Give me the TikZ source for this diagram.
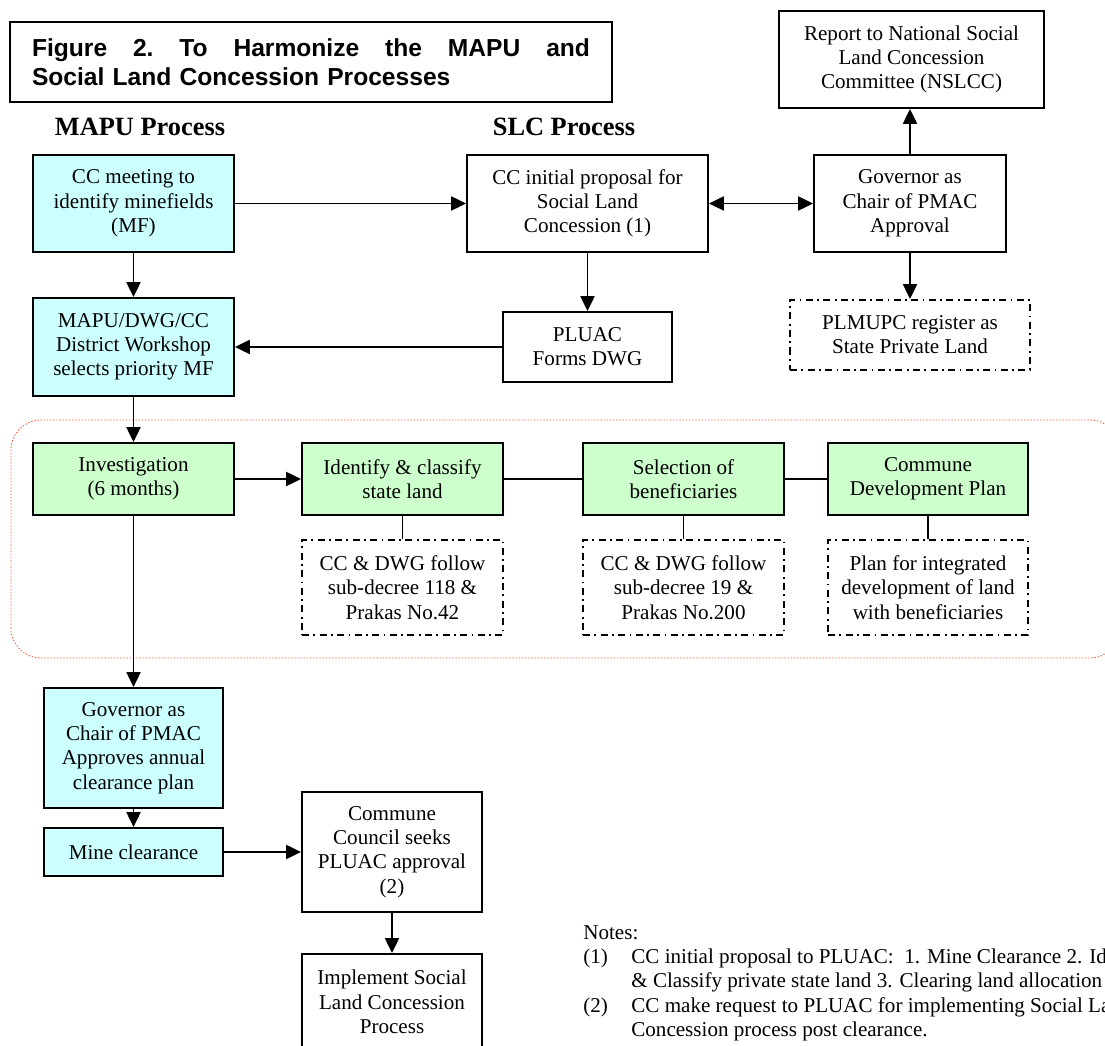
\documentclass[tikz,border=0pt]{standalone}
\usepackage{fontspec}
\setmainfont{Liberation Serif}
\newfontfamily\titlefont{Liberation Sans}
\usetikzlibrary{arrows.meta}
\definecolor{mapucyan}{RGB}{204,255,255}
\definecolor{slcgreen}{RGB}{204,255,204}
\definecolor{dotred}{RGB}{255,90,50}
\tikzstyle{box} = [draw, line width=1.1pt, align=center, inner sep=2pt, font=\fontsize{12}{13.8}\selectfont]
\tikzstyle{cyanbox} = [box, fill=mapucyan]
\tikzstyle{greenbox} = [box, fill=slcgreen, minimum width=4.02cm, minimum height=1.44cm]
\tikzstyle{dashbox} = [box, dash pattern=on 4pt off 2.5pt on 1pt off 2.5pt]
\tikzstyle{arr} = [line width=1.1pt, -{Triangle[length=8.5pt,width=8pt]}]
\tikzstyle{dblarr} = [line width=1.1pt, {Triangle[length=8.5pt,width=8pt]}-{Triangle[length=8.5pt,width=8pt]}]
\tikzstyle{link} = [line width=1.1pt]
\begin{document}
\begin{tikzpicture}
\useasboundingbox (0,0) rectangle (22.1,20.92);
\draw[dotred, line width=0.5pt, dash pattern=on 0.8pt off 1pt, rounded corners=0.6cm] (0.22,7.76) rectangle (22.4,12.52);
\node[draw, line width=1.1pt, minimum width=12.04cm, minimum height=1.6cm, text width=11.16cm, align=left, font=\titlefont\bfseries\fontsize{14}{16.5}\selectfont, xshift=6.22cm, yshift=19.68cm] (title) {\makebox[11.16cm]{Figure\hfill 2.\hfill To\hfill Harmonize\hfill the\hfill MAPU\hfill and}\\Social Land Concession Processes};
\node[font=\bfseries\fontsize{15}{18}\selectfont, xshift=2.8cm, yshift=18.38cm] (mapulabel) {MAPU Process};
\node[font=\bfseries\fontsize{15}{18}\selectfont, xshift=11.28cm, yshift=18.38cm] (slclabel) {SLC Process};
\node[cyanbox, minimum width=4.02cm, minimum height=1.94cm, xshift=2.67cm, yshift=16.85cm] (meet) {CC meeting to\\identify minefields\\(MF)};
\node[box, minimum width=4.82cm, minimum height=1.94cm, xshift=11.75cm, yshift=16.85cm] (propose) {CC initial proposal for\\Social Land\\Concession (1)};
\node[box, minimum width=3.84cm, minimum height=1.94cm, xshift=18.2cm, yshift=16.85cm] (approve) {Governor as\\Chair of PMAC\\Approval};
\node[box, minimum width=5.3cm, minimum height=1.94cm, xshift=18.23cm, yshift=19.73cm] (report) {Report to National Social\\Land Concession\\Committee (NSLCC)};
\node[dashbox, minimum width=4.8cm, minimum height=1.4cm, xshift=18.2cm, yshift=14.22cm] (register) {PLMUPC register as\\State Private Land};
\node[box, minimum width=3.38cm, minimum height=1.4cm, xshift=11.75cm, yshift=13.98cm] (forms) {PLUAC\\Forms DWG};
\node[cyanbox, minimum width=4.02cm, minimum height=1.96cm, xshift=2.67cm, yshift=13.98cm] (workshop) {MAPU/DWG/CC\\District Workshop\\selects priority MF};
\node[greenbox, xshift=2.67cm, yshift=11.34cm] (invest) {Investigation\\(6 months)};
\node[greenbox, xshift=8.05cm, yshift=11.34cm] (classify) {Identify \& classify\\state land};
\node[greenbox, xshift=13.67cm, yshift=11.34cm] (select) {Selection of\\beneficiaries};
\node[greenbox, minimum width=4cm, xshift=18.56cm, yshift=11.34cm] (cdp) {Commune\\Development Plan};
\node[dashbox, minimum width=4.02cm, minimum height=1.9cm, xshift=8.05cm, yshift=9.17cm] (classifynote) {CC \& DWG follow\\sub-decree 118 \&\\Prakas No.42};
\node[dashbox, minimum width=4.02cm, minimum height=1.9cm, xshift=13.67cm, yshift=9.17cm] (selectnote) {CC \& DWG follow\\sub-decree 19 \&\\Prakas No.200};
\node[dashbox, minimum width=4cm, minimum height=1.9cm, xshift=18.56cm, yshift=9.17cm] (cdpnote) {Plan for integrated\\development of land\\with beneficiaries};
\node[cyanbox, minimum width=3.58cm, minimum height=2.4cm, xshift=2.67cm, yshift=5.96cm] (gov) {Governor as\\Chair of PMAC\\Approves annual\\clearance plan};
\node[cyanbox, minimum width=3.58cm, minimum height=0.96cm, xshift=2.67cm, yshift=3.88cm] (clear) {Mine clearance};
\node[box, minimum width=3.6cm, minimum height=2.4cm, xshift=7.84cm, yshift=3.88cm] (seek) {Commune\\Council seeks\\PLUAC approval\\(2)};
\node[box, minimum width=3.6cm, minimum height=1.92cm, xshift=7.84cm, yshift=0.88cm] (implement) {Implement Social\\Land Concession\\Process};
\node[anchor=north west, inner sep=0pt, font=\fontsize{12}{13.8}\selectfont, xshift=11.66cm, yshift=2.48cm] (notes) {\begin{tabular}{@{}p{0.96cm}@{}l@{}}
\multicolumn{2}{@{}l@{}}{Notes:}\\
(1) & CC initial proposal to PLUAC:\ \ 1. Mine Clearance 2. Identify\\
 & \& Classify private state land 3. Clearing land allocation\\
(2) & CC make request to PLUAC for implementing Social Land\\
 & Concession process post clearance.
\end{tabular}};
\draw[arr] (meet) -- (propose);
\draw[dblarr] (propose) -- (approve);
\draw[arr] (approve.north) -- (approve.north |- report.south);
\draw[arr] (approve) -- (register);
\draw[arr] (propose) -- (forms);
\draw[arr] (meet) -- (workshop);
\draw[arr] (forms) -- (workshop);
\draw[arr] (workshop) -- (invest);
\draw[arr] (invest) -- (classify);
\draw[link] (classify) -- (select);
\draw[link] (select) -- (cdp);
\draw[link] (classify) -- (classifynote);
\draw[link] (select) -- (selectnote);
\draw[link] (cdp) -- (cdpnote);
\draw[arr] (invest) -- (gov);
\draw[arr] (gov) -- (clear);
\draw[arr] (clear) -- (seek);
\draw[arr] (seek) -- (implement);
\end{tikzpicture}
\end{document}
